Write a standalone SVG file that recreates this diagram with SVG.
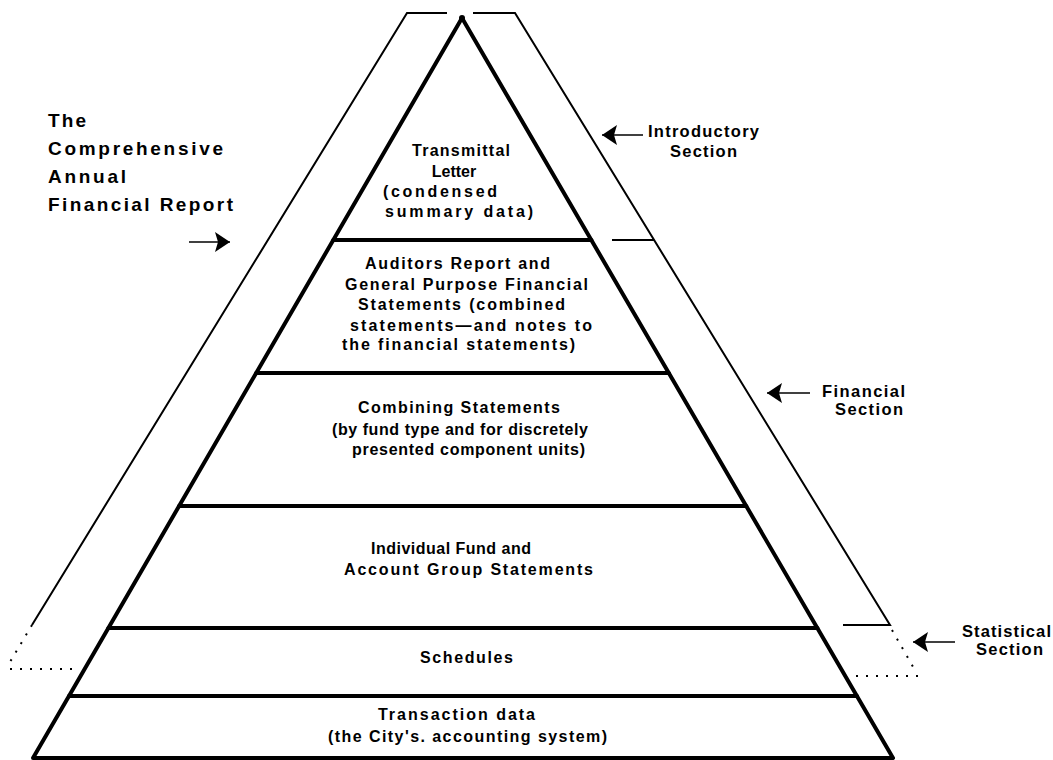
<svg xmlns="http://www.w3.org/2000/svg" width="1053" height="760" viewBox="0 0 1053 760">
<defs>
<marker id="ah" viewBox="0 0 15 20" refX="15" refY="10" markerWidth="15" markerHeight="20" markerUnits="userSpaceOnUse" orient="auto">
<path d="M0,0 L15,10 L0,20 L3,10 Z" fill="#000"/>
</marker>
<style>
text{font-family:"Liberation Sans",Arial,Helvetica,sans-serif;font-weight:bold;fill:#000;}
.b{font-size:16px;}
.t{font-size:19px;}
.l{font-size:16.5px;}
.band{fill:#fff;stroke:#000;stroke-width:4;stroke-linejoin:round;}
.frame{fill:none;stroke:#000;stroke-width:2;}
.dot{fill:none;stroke:#000;stroke-width:2;stroke-dasharray:2 8;}
.arr{fill:none;stroke:#000;stroke-width:1.5;}
</style>
</defs>
<rect width="1053" height="760" fill="#fff"/>

<g id="frame">
<polyline class="frame" points="32,625 407,13 447,13"/>
<polyline class="frame" points="473,13 515,13 890,625 843,625"/>
<line class="frame" x1="612" y1="240" x2="654" y2="240"/>
<line class="dot" x1="32" y1="625" x2="10" y2="662"/>
<line class="dot" x1="10" y1="669" x2="76" y2="669"/>
<line class="dot" x1="892" y1="630" x2="916" y2="672"/>
<line class="dot" x1="918" y1="676" x2="852" y2="676"/>
</g>

<g id="transmittal">
<polygon class="band" points="462,18 591.3,240 333.3,240"/>
<circle cx="462" cy="18" r="3" fill="#000"/>
<text class="b" x="412" y="156" textLength="98" lengthAdjust="spacing">Transmittal</text>
<text class="b" x="454" y="177" text-anchor="middle">Letter</text>
<text class="b" x="383" y="197" textLength="114" lengthAdjust="spacing">(condensed</text>
<text class="b" x="385" y="217" textLength="148" lengthAdjust="spacing">summary data)</text>
</g>

<g id="auditors">
<polygon class="band" points="333.3,240 591.3,240 668.8,373 256.2,373"/>
<text class="b" x="365" y="269" textLength="185" lengthAdjust="spacing">Auditors Report and</text>
<text class="b" x="345" y="290" textLength="243" lengthAdjust="spacing">General Purpose Financial</text>
<text class="b" x="358" y="310" textLength="207" lengthAdjust="spacing">Statements (combined</text>
<text class="b" x="350" y="331" textLength="242" lengthAdjust="spacing">statements—and notes to</text>
<text class="b" x="342" y="350" textLength="233" lengthAdjust="spacing">the financial statements)</text>
</g>

<g id="combining">
<polygon class="band" points="256.2,373 668.8,373 746.2,506 179.1,506"/>
<text class="b" x="358" y="413" textLength="202" lengthAdjust="spacing">Combining Statements</text>
<text class="b" x="332" y="435" textLength="256" lengthAdjust="spacing">(by fund type and for discretely</text>
<text class="b" x="352" y="455" textLength="233" lengthAdjust="spacing">presented component units)</text>
</g>

<g id="individual">
<polygon class="band" points="179.1,506 746.2,506 817.3,628 108.4,628"/>
<text class="b" x="371" y="554" textLength="160" lengthAdjust="spacing">Individual Fund and</text>
<text class="b" x="344" y="575" textLength="249" lengthAdjust="spacing">Account Group Statements</text>
</g>

<g id="schedules">
<polygon class="band" points="108.4,628 817.3,628 856.9,696 69,696"/>
<text class="b" x="420" y="663" textLength="93" lengthAdjust="spacing">Schedules</text>
</g>

<g id="transaction">
<polygon class="band" points="69,696 856.9,696 893,758 33,758"/>
<text class="b" x="378" y="720" textLength="157" lengthAdjust="spacing">Transaction data</text>
<text class="b" x="328" y="742" textLength="279" lengthAdjust="spacing">(the City's. accounting system)</text>
</g>

<g id="title">
<text class="t" x="48" y="127" textLength="38" lengthAdjust="spacing">The</text>
<text class="t" x="48" y="155" textLength="175" lengthAdjust="spacing">Comprehensive</text>
<text class="t" x="48" y="183" textLength="78" lengthAdjust="spacing">Annual</text>
<text class="t" x="48" y="211" textLength="185" lengthAdjust="spacing">Financial Report</text>
</g>

<g id="label-introductory">
<text class="l" x="648" y="137" textLength="111" lengthAdjust="spacing">Introductory</text>
<text class="l" x="670" y="157" textLength="67" lengthAdjust="spacing">Section</text>
</g>

<g id="label-financial">
<text class="l" x="822" y="397" textLength="83" lengthAdjust="spacing">Financial</text>
<text class="l" x="835" y="415" textLength="68" lengthAdjust="spacing">Section</text>
</g>

<g id="label-statistical">
<text class="l" x="962" y="637" textLength="89" lengthAdjust="spacing">Statistical</text>
<text class="l" x="976" y="655" textLength="67" lengthAdjust="spacing">Section</text>
</g>

<g id="connectors">
<line class="arr" x1="189" y1="242" x2="230" y2="242" marker-end="url(#ah)"/>
<line class="arr" x1="643" y1="135" x2="602" y2="135" marker-end="url(#ah)"/>
<line class="arr" x1="810" y1="393" x2="767" y2="393" marker-end="url(#ah)"/>
<line class="arr" x1="955" y1="642" x2="913" y2="642" marker-end="url(#ah)"/>
</g>
</svg>
